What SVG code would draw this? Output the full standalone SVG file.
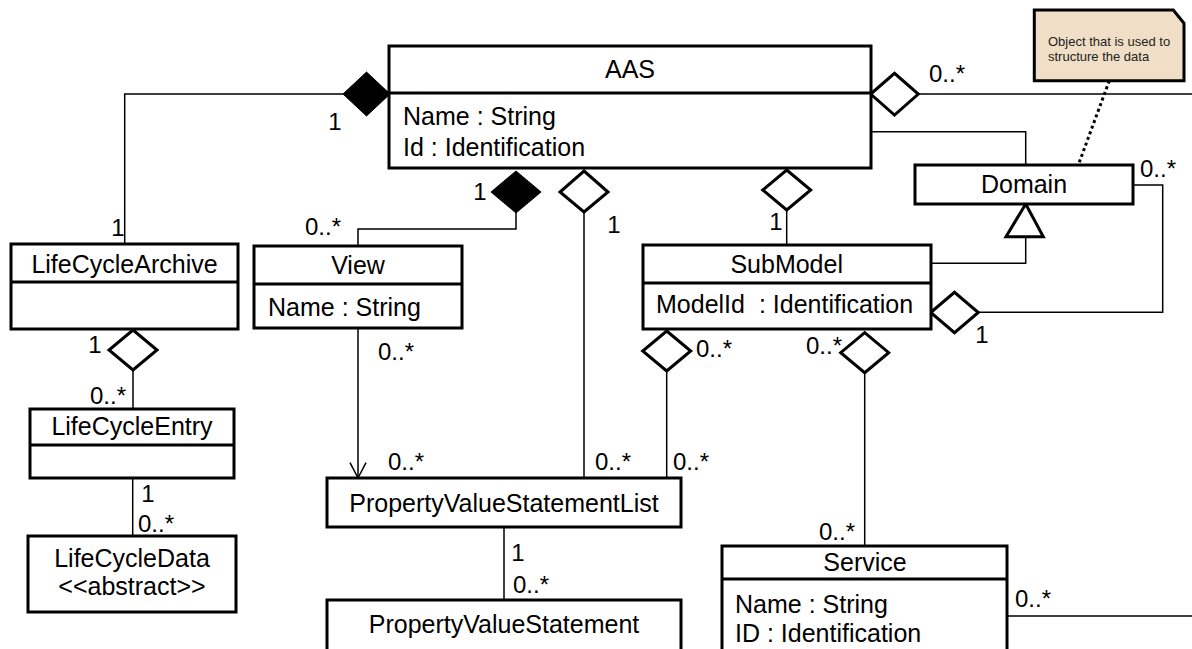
<svg xmlns="http://www.w3.org/2000/svg" width="1192" height="649" viewBox="0 0 1192 649">
<style>
.box{fill:#fff;stroke:#000;stroke-width:3}
.sep{stroke:#000;stroke-width:3}
.t{font-family:"Liberation Sans",Arial,sans-serif;font-size:25px;fill:#000}
.c{text-anchor:middle}
.lbl{font-family:"Liberation Sans",Arial,sans-serif;font-size:24px;fill:#000}
.ln{fill:none;stroke:#000;stroke-width:1.5}
.od{fill:#fff;stroke:#000;stroke-width:3}
.fd{fill:#000;stroke:#000;stroke-width:1}
.note{fill:#F0DFC6;stroke:#000;stroke-width:3}
.nt{font-family:"Liberation Sans",Arial,sans-serif;font-size:13px;fill:#222}
</style>
<rect width="1192" height="649" fill="#fff"/>
<g id="connectors">
<polyline class="ln" points="343,94 124.7,94 124.7,244"/>
<line class="ln" x1="133" y1="370" x2="133" y2="409"/>
<line class="ln" x1="132.7" y1="478" x2="132.7" y2="536"/>
<polyline class="ln" points="358,246 358,229 516,229 516,213"/>
<line class="ln" x1="358" y1="328" x2="358" y2="478"/>
<polyline class="ln" points="350,462.7 358,478 366,462.7"/>
<line class="ln" x1="584" y1="212" x2="584" y2="478"/>
<line class="ln" x1="666.7" y1="371" x2="666.7" y2="478"/>
<line class="ln" x1="786.7" y1="210" x2="786.7" y2="245"/>
<line class="ln" x1="864.7" y1="372.7" x2="864.7" y2="546"/>
<line class="ln" x1="918.3" y1="94" x2="1192" y2="94"/>
<polyline class="ln" points="870.7,131.7 1025.7,131.7 1025.7,165"/>
<polyline class="ln" points="1025.7,236.7 1025.7,263.3 930.7,263.3"/>
<polyline class="ln" points="1132.7,185 1162.7,185 1162.7,312.3 978.3,312.3"/>
<line class="ln" x1="1007.3" y1="616" x2="1192" y2="616"/>
<line class="ln" x1="504" y1="527.3" x2="504" y2="600"/>
<line x1="1109.3" y1="80.7" x2="1078.3" y2="165" stroke="#000" stroke-width="3" stroke-dasharray="3,3"/>
<polygon class="fd" points="390,94 366.5,72 343,94 366.5,116"/>
<polygon class="fd" points="516,171 541,192 516,213 491,192"/>
<polygon class="od" points="584,171 608,192 584,212 560,192"/>
<polygon class="od" points="786.7,170 810.7,190 786.7,210 762.7,190"/>
<polygon class="od" points="870.7,94 894.5,73.3 918.3,94 894.5,115"/>
<polygon class="od" points="133,330 157,350 133,370 109,350"/>
<polygon class="od" points="666.7,331 690.7,351 666.7,371 642.7,351"/>
<polygon class="od" points="864.7,332.7 888.7,352.7 864.7,372.7 840.7,352.7"/>
<polygon class="od" points="930.7,312.5 954.5,292.3 978.3,312.5 954.5,332.7"/>
<polygon class="od" points="1025.7,204 1043.3,236.7 1006,236.7"/>
<text class="lbl c" x="335" y="130">1</text>
<text class="lbl c" x="118" y="236">1</text>
<text class="lbl" x="305" y="235">0..*</text>
<text class="lbl c" x="480" y="200">1</text>
<text class="lbl c" x="614" y="233">1</text>
<text class="lbl c" x="776" y="230">1</text>
<text class="lbl" x="929" y="82">0..*</text>
<text class="lbl" x="1140" y="177">0..*</text>
<text class="lbl c" x="982" y="343">1</text>
<text class="lbl c" x="95" y="353">1</text>
<text class="lbl" x="90" y="404">0..*</text>
<text class="lbl c" x="148" y="502">1</text>
<text class="lbl" x="138" y="532">0..*</text>
<text class="lbl" x="378" y="360">0..*</text>
<text class="lbl" x="696" y="357">0..*</text>
<text class="lbl" x="806" y="354">0..*</text>
<text class="lbl" x="388" y="470">0..*</text>
<text class="lbl" x="595" y="470">0..*</text>
<text class="lbl" x="673" y="470">0..*</text>
<text class="lbl c" x="518" y="561">1</text>
<text class="lbl" x="513" y="593">0..*</text>
<text class="lbl" x="819" y="540">0..*</text>
<text class="lbl" x="1015" y="607">0..*</text>
</g>
<g id="aas">
<rect class="box" x="389" y="46" width="482" height="122"/>
<line class="sep" x1="389" y1="93" x2="871" y2="93"/>
<text class="t c" x="630" y="78">AAS</text>
<text class="t" x="403" y="125">Name : String</text>
<text class="t" x="403" y="156">Id : Identification</text>
</g>
<g id="note">
<polygon class="note" points="1034.3,10 1173.3,10 1184,23.3 1184,80.7 1034.3,80.7"/>
<text class="nt" x="1048" y="46">Object that is used to</text>
<text class="nt" x="1048" y="61">structure the data</text>
</g>
<g id="domain">
<rect class="box" x="915" y="165" width="218" height="39"/>
<text class="t c" x="1024" y="193">Domain</text>
</g>
<g id="lifecyclearchive">
<rect class="box" x="11" y="244" width="227" height="85"/>
<line class="sep" x1="11" y1="282" x2="238" y2="282"/>
<text class="t c" x="124.5" y="272.7">LifeCycleArchive</text>
</g>
<g id="lifecycleentry">
<rect class="box" x="30" y="409" width="204" height="69"/>
<line class="sep" x1="30" y1="445" x2="234" y2="445"/>
<text class="t c" x="132" y="435">LifeCycleEntry</text>
</g>
<g id="lifecycledata">
<rect class="box" x="28" y="536" width="208" height="76"/>
<text class="t c" x="132" y="566.7">LifeCycleData</text>
<text class="t c" x="132" y="595">&lt;&lt;abstract&gt;&gt;</text>
</g>
<g id="view">
<rect class="box" x="254" y="246" width="208" height="82"/>
<line class="sep" x1="254" y1="284" x2="462" y2="284"/>
<text class="t c" x="358" y="274">View</text>
<text class="t" x="268" y="316">Name : String</text>
</g>
<g id="submodel">
<rect class="box" x="643" y="245" width="288" height="84"/>
<line class="sep" x1="643" y1="283" x2="931" y2="283"/>
<text class="t c" x="786.7" y="272.7">SubModel</text>
<text class="t" x="656" y="313.3">ModelId <tspan dx="7">: Identification</tspan></text>
</g>
<g id="pvsl">
<rect class="box" x="327" y="478" width="354" height="49"/>
<text class="t c" x="504" y="511.7">PropertyValueStatementList</text>
</g>
<g id="pvs">
<rect class="box" x="327" y="600" width="354" height="60"/>
<text class="t c" x="504" y="633.3">PropertyValueStatement</text>
</g>
<g id="service">
<rect class="box" x="722" y="546" width="285" height="120"/>
<line class="sep" x1="722" y1="579" x2="1007" y2="579"/>
<text class="t c" x="865" y="570.7">Service</text>
<text class="t" x="735" y="612.7">Name : String</text>
<text class="t" x="735" y="641.7">ID : Identification</text>
</g>
</svg>
